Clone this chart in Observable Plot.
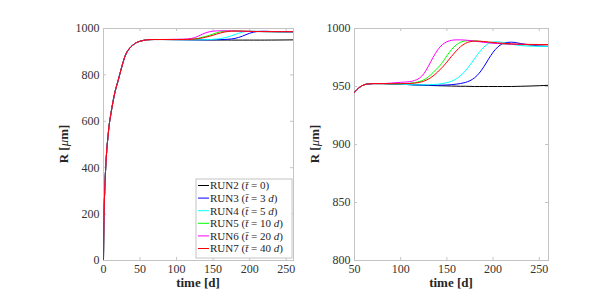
<!DOCTYPE html>
<html><head><meta charset="utf-8">
<script src="https://cdn.jsdelivr.net/npm/d3@7"></script>
<script src="https://cdn.jsdelivr.net/npm/@observablehq/plot@0.6"></script>
<style>
body{margin:0;background:#fff;}
#wrap{position:relative;width:606px;height:294px;display:flex;background:#fff;}
#wrap svg{display:block;}
#wrap svg, #wrap svg g, #wrap svg text, #wrap svg tspan{font-family:'Liberation Serif','Times New Roman',serif !important;}
</style>
</head><body><div id="wrap"></div>
<script>
// ---- data ----
const runs = ["RUN2","RUN3","RUN4","RUN5","RUN6","RUN7"];
const runTbar = [0,3,5,10,20,40];
const colors = ["#000000","#0000ff","#00ffff","#00ff00","#ff00ff","#ff0000"];

// shared early growth (all runs coincide)
const tCommon = [0,0.5,1,2,3,4,6,8,10,13,16,20,25,30,35,40,45,50,55,60,65,70,80];
const rCommon = [0,150,230,330,400,455,530,590,630,685,730,775,835,885,912,928,939,945,949,951.4,952.2,952.5,952.5];

// per-run tails
const tTail = [90,100,110,115,120,125,130,135,140,145,150,155,160,165,170,175,180,185,190,195,200,205,210,215,220,225,230,240,250,260];
const rRun2 = [952.2,951.9,951.6,951.4,951.2,951.0,950.9,950.8,950.7,950.6,950.5,950.4,950.3,950.2,950.2,950.1,950.0,950.0,950.0,950.0,950.0,950.0,950.0,950.0,950.0,950.1,950.2,950.4,950.7,951.0];
const rRun3 = [952.2,951.9,951.6,951.4,951.3,951.2,951.1,951.1,951.1,951.2,951.3,951.6,952.0,952.6,953.5,955.0,957.5,961.5,967.0,973.5,979.5,984.0,986.8,988.0,988.2,987.8,987.0,985.8,985.0,984.5];
const rRun4 = [952.2,951.9,951.6,951.5,951.4,951.4,951.5,951.7,952.0,952.5,953.3,954.5,956.5,959.5,963.5,968.5,974.0,979.5,984.0,987.0,988.4,988.5,988.0,987.2,986.4,985.8,985.3,984.8,984.6,984.5];
const rRun5 = [952.4,952.5,952.8,953.3,954.2,955.8,958.3,962.0,966.0,970.5,976.5,981.8,985.8,988.2,989.3,989.6,989.4,989.0,988.5,988.0,987.5,987.1,986.8,986.5,986.3,986.2,986.1,986.0,986.0,986.0];
const rRun6 = [953.0,953.6,954.2,955.2,957.0,961.0,967.5,975.0,981.5,986.0,988.6,989.8,990.2,990.2,990.0,989.6,989.1,988.6,988.1,987.7,987.3,987.0,986.8,986.6,986.4,986.3,986.2,986.1,986.0,986.0];
const rRun7 = [952.4,952.4,952.6,952.9,953.5,954.6,956.4,959.0,962.5,966.5,971.0,976.0,980.5,984.5,987.2,988.6,989.1,989.1,988.8,988.4,988.0,987.6,987.3,987.0,986.8,986.6,986.5,986.3,986.2,986.1];
const tails = [rRun2,rRun3,rRun4,rRun5,rRun6,rRun7];

// ticks
const xTicksLeft = [0,50,100,150,200,250];
const yTicksLeft = [0,200,400,600,800,1000];
const xTicksRight = [50,100,150,200,250];
const yTicksRight = [800,850,900,950,1000];

const data = [];
runs.forEach((run,i) => {
  tCommon.forEach((t,j) => data.push({run, t, R: rCommon[j]}));
  tTail.forEach((t,j) => data.push({run, t, R: tails[i][j]}));
});

// ---- drawing ----
const H = 294, MT = 28, MB = 34;
const FONT = "Liberation Serif";
const GRID = "#c4c4c4";
const fmt = d3.format("d");

function panel({width, ml, mr, xDomain, yDomain, xTicks, yTicks}) {
  const fh = H - MT - MB, fw = width - ml - mr;
  const svg = Plot.plot({
    width, height: H, marginTop: MT, marginBottom: MB, marginLeft: ml, marginRight: mr,
    style: {fontFamily: FONT, fontSize: "12px", color: "#333", background: "#fff"},
    x: {domain: xDomain},
    y: {domain: yDomain},
    color: {domain: runs, range: colors},
    marks: [
      Plot.frame({stroke: GRID}),
      Plot.ruleX(xTicks, {stroke: GRID, insetTop: fh - 3}),
      Plot.ruleX(xTicks, {stroke: GRID, insetBottom: fh - 3}),
      Plot.ruleY(yTicks, {stroke: GRID, insetLeft: fw - 3}),
      Plot.ruleY(yTicks, {stroke: GRID, insetRight: fw - 3}),
      Plot.axisX(xTicks, {tickSize: 0, tickPadding: 4, label: null, tickFormat: fmt, fill: "#333", fontFamily: FONT}),
      Plot.axisY(yTicks, {tickSize: 0, tickPadding: 4, label: null, tickFormat: fmt, fill: "#333", fontFamily: FONT}),
      Plot.line(data, {x: "t", y: "R", z: "run", stroke: "run", strokeWidth: 1, curve: "monotone-x", clip: true})
    ]
  });
  const s = d3.select(svg);
  // x label
  s.append("text").attr("x", ml + fw/2).attr("y", H - 7)
    .attr("text-anchor","middle").attr("font-weight","bold")
    .attr("font-size","13px").attr("fill","#262626").text("time [d]");
  // y label
  const yl = s.append("text").attr("transform", `translate(${ml - 35},${MT + fh/2}) rotate(-90)`)
    .attr("text-anchor","middle").attr("font-weight","bold")
    .attr("font-size","13px").attr("fill","#262626");
  yl.append("tspan").text("R [");
  yl.append("tspan").attr("font-style","italic").attr("font-weight","normal").text("\u03bc");
  yl.append("tspan").text("m]");
  s.selectAll("text").style("font-family", "'Liberation Serif', serif");
  return {svg, s, fw, fh};
}

const left = panel({width: 303, ml: 103, mr: 10, xDomain: [0,260], yDomain: [0,1000], xTicks: xTicksLeft, yTicks: yTicksLeft});
const right = panel({width: 303, ml: 51, mr: 58, xDomain: [50,260], yDomain: [800,1000], xTicks: xTicksRight, yTicks: yTicksRight});

// legend in left panel
{
  const s = left.s;
  const lx = 196, ly = 179, lw = 96, lh = 79, row = 12.6;
  const g = s.append("g").attr("text-anchor","start");
  g.append("rect").attr("x", lx).attr("y", ly).attr("width", lw).attr("height", lh)
    .attr("fill","#fff").attr("stroke", GRID);
  runs.forEach((run,i) => {
    const cy = ly + 6.5 + i*row;
    g.append("line").attr("x1", lx+2).attr("x2", lx+13).attr("y1", cy).attr("y2", cy)
      .attr("stroke", colors[i]).attr("stroke-width", 1);
    const t = g.append("text").attr("x", lx+14).attr("y", cy).attr("dy","0.35em")
      .attr("text-anchor","start").attr("font-size","11px").attr("fill","#262626")
      .style("font-family", "'Liberation Serif', serif");
    t.append("tspan").text(run + " (");
    t.append("tspan").attr("font-style","italic").text("t\u0304");
    t.append("tspan").text(" = " + runTbar[i] + (runTbar[i] ? " " : ""));
    if (runTbar[i]) t.append("tspan").attr("font-style","italic").text("d");
    t.append("tspan").text(")");
  });
}

const wrap = document.getElementById("wrap");
wrap.appendChild(left.svg);
wrap.appendChild(right.svg);
</script>
</body></html>
